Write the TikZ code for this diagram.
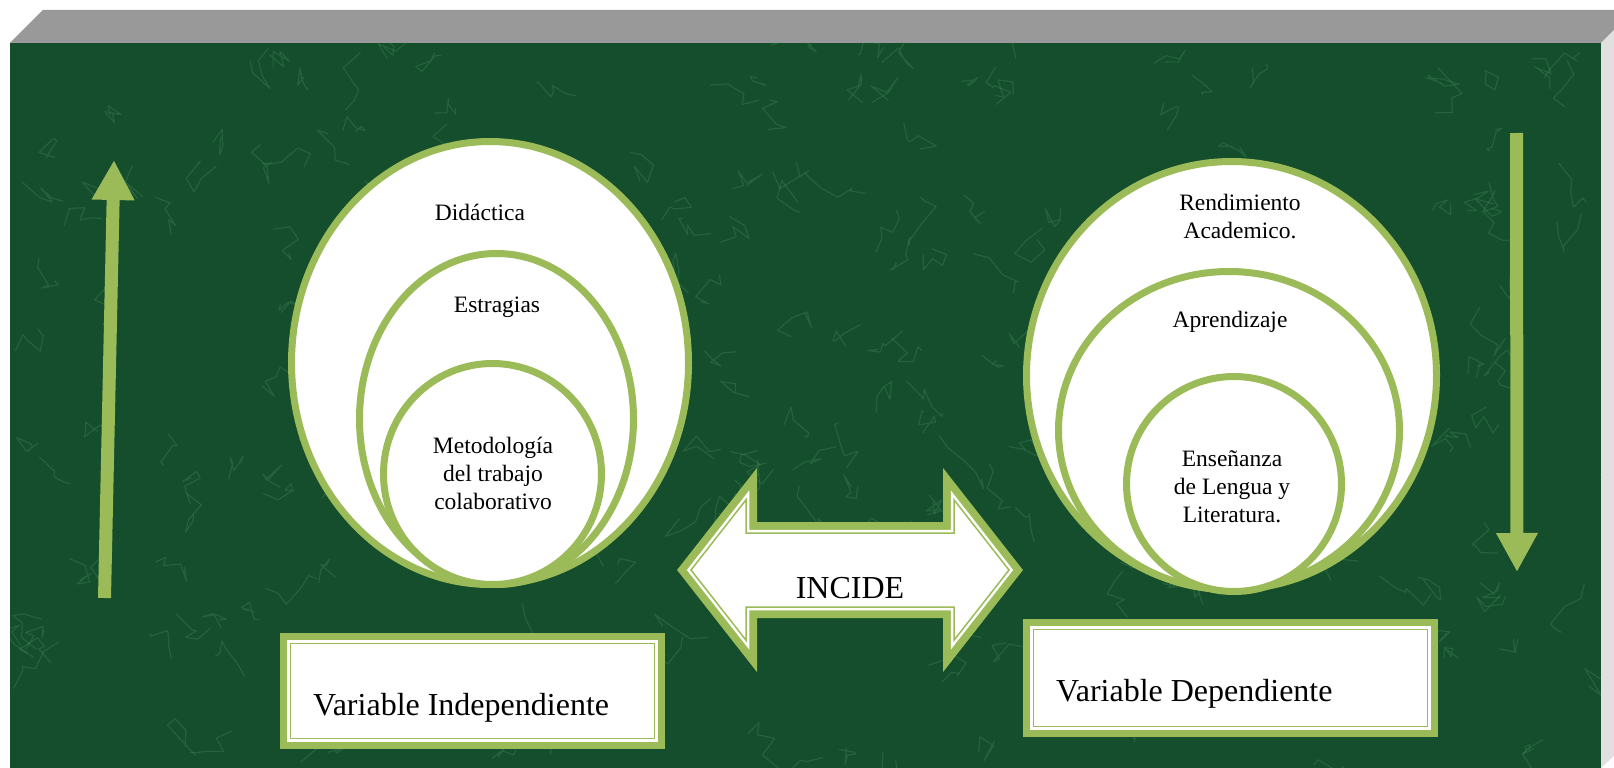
\documentclass[tikz,border=0pt]{standalone}
\usepackage{fontspec}
\setmainfont{Liberation Serif}
\usetikzlibrary{arrows.meta,shapes.geometric}

\definecolor{marble}{RGB}{20,78,44}
\definecolor{vein}{RGB}{95,170,120}
\definecolor{olive}{RGB}{155,187,89}
\definecolor{bevel}{RGB}{153,153,153}
\definecolor{side}{RGB}{224,224,224}

\tikzset{
  ring/.style={ellipse, draw=olive, fill=white, line width=7pt, inner sep=0pt},
  ringtext/.style={align=center, font=\fontsize{23.5}{28}\selectfont},
  bigtext/.style={font=\fontsize{32}{38}\selectfont},
  frame/.style={fill=white, draw=olive, line width=1.5pt,
    preaction={draw=olive, line width=22pt},
    preaction={draw=white, line width=6.5pt}},
  varbox/.style={frame, rectangle, inner sep=0pt},
  veinline/.style={draw=vein, opacity=0.22, line width=1.2pt, line join=round},
  updown/.style={draw=olive, line width=13pt, -{Triangle[width=40pt, length=40pt]}}
}

\begin{document}
\begin{tikzpicture}[x=1pt, y=-1pt, line join=miter]
    \useasboundingbox (0,0) rectangle (1614,768);

    \fill[bevel] (10,43) -- (43,10) -- (1614,10) -- (1614,30) -- (1601,43) -- cycle;
    \fill[side] (1601,43) -- (1614,30) -- (1614,756) -- (1601,768) -- cycle;
    \begin{scope}
        \clip (10,43) rectangle (1601,768);
        \fill[marble] (10,43) rectangle (1601,768);
        \pgfmathsetseed{11}
        \foreach \i in {1,...,260}{
            \pgfmathsetmacro\xa{805+800*rand}
            \pgfmathsetmacro\ya{405+365*rand}
            \draw[veinline] (\xa,\ya) -- ++({18*rand},{18*rand}) -- ++({18*rand},{18*rand})
                -- ++({18*rand},{18*rand}) -- ++({18*rand},{18*rand}) -- ++({18*rand},{18*rand});
        }
    \end{scope}

    \coordinate (upbot) at (104.5,598);
    \coordinate (uptop) at (114,160);
    \coordinate (downtop) at (1516.5,133);
    \coordinate (downbot) at (1517,572);
    \draw[updown] (upbot) -- (uptop);
    \draw[updown, -{Triangle[width=39pt, length=39pt]}] (downtop) -- (downbot);

    \node[ring, minimum width=397pt, minimum height=443pt] (did) at (490,363) {};
    \node[ring, minimum width=274pt, minimum height=331pt] (est) at (496.5,419) {};
    \node[ring, minimum width=218pt, minimum height=221pt] (met) at (492.5,474) {};
    \node[ringtext] (didtxt) at (480,212) {Didáctica};
    \node[ringtext] (esttxt) at (497,307) {Estragias};
    \node[ringtext] (mettxt) at (493,473) {Metodología\\del trabajo\\colaborativo};

    \node[ring, minimum width=410pt, minimum height=428pt] (ren) at (1231.5,375.5) {};
    \node[ring, minimum width=341pt, minimum height=318pt] (apr) at (1229,430.5) {};
    \node[ring, minimum width=215pt, minimum height=215pt] (ens) at (1234,484) {};
    \node[ringtext] (rentxt) at (1240,217) {Rendimiento\\Academico.};
    \node[ringtext] (aprtxt) at (1230,322) {Aprendizaje};
    \node[ringtext] (enstxt) at (1232,487) {Enseñanza\\de Lengua y\\Literatura.};

    \draw[frame] (691,570) -- (746,499.8) -- (746,533) -- (954,533) -- (954,499.8)
        -- (1009,570) -- (954,640.2) -- (954,607) -- (746,607) -- (746,640.2) -- cycle;
    \node[bigtext] (incide) at (850,588) {INCIDE};

    \node[varbox, minimum width=363.6pt, minimum height=94.6pt] (indep) at (472.5,691) {};
    \node[bigtext, anchor=base west, inner sep=0pt] (indeptxt) at (313,715) {Variable Independiente};
    \node[varbox, minimum width=393.6pt, minimum height=96.6pt] (dep) at (1230.5,678) {};
    \node[bigtext, anchor=base west, inner sep=0pt] (deptxt) at (1056,701) {Variable Dependiente};
\end{tikzpicture}
\end{document}
